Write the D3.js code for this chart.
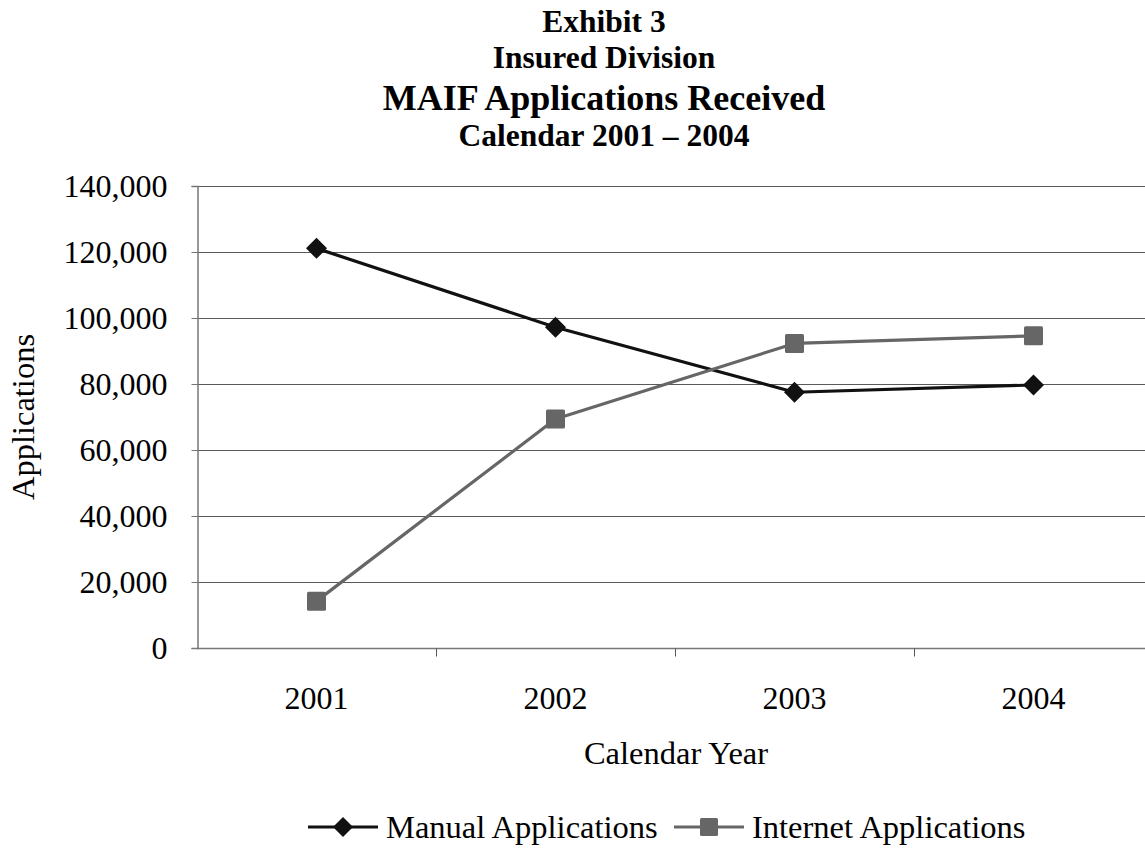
<!DOCTYPE html>
<html>
<head>
<meta charset="utf-8">
<script src="https://cdn.jsdelivr.net/npm/d3@7"></script>
<style>
  html, body { margin: 0; padding: 0; background: #fff; }
  svg { display: block; font-family: "Liberation Serif", "Times New Roman", serif; }
</style>
</head>
<body>
<svg id="chart" width="1145" height="856"></svg>
<script>
// Calendar years on the x axis
const years = ["2001", "2002", "2003", "2004"];
// Applications received per year
const manualApps = [121100, 97200, 77500, 79700];
const internetApps = [14200, 69400, 92300, 94600];
// Value-axis ticks
const yTicks = [0, 20000, 40000, 60000, 80000, 100000, 120000, 140000];
const titleLines = ["Exhibit 3", "Insured Division", "MAIF Applications Received", "Calendar 2001 \u2013 2004"];
const seriesNames = ["Manual Applications", "Internet Applications"];

const svg = d3.select("#chart");
const W = 1145;
const FS = 32.5; // body text size

const plot = { left: 197, right: 1153, top: 186, bottom: 648 };

const x = d3.scaleBand().domain(years).range([plot.left, plot.right]).padding(0);
const y = d3.scaleLinear().domain([0, 140000]).range([plot.bottom, plot.top]);
const cx = d => x(d) + x.bandwidth() / 2;

// Title block
const titleSizes = [31.5, 31.5, 36, 31.5];
const titleBase = [32, 68, 110, 146];
svg.append("g").selectAll("text").data(titleLines).join("text")
  .attr("x", 604).attr("y", (d, i) => titleBase[i])
  .attr("text-anchor", "middle")
  .attr("font-weight", "bold")
  .attr("font-size", (d, i) => titleSizes[i])
  .attr("fill", "#000")
  .text(d => d);

// Horizontal gridlines
svg.append("g").selectAll("line").data(yTicks.filter(t => t > 0)).join("line")
  .attr("x1", plot.left).attr("x2", W)
  .attr("y1", d => Math.round(y(d)) + 0.5).attr("y2", d => Math.round(y(d)) + 0.5)
  .attr("stroke", "#5a5a5a").attr("stroke-width", 1);

// Y axis
const yAxis = d3.axisLeft(y).tickValues(yTicks).tickSize(6).tickPadding(24)
  .tickFormat(d3.format(","));
const gy = svg.append("g").attr("transform", `translate(${plot.left + 0.5},0)`).call(yAxis);
gy.select(".domain").attr("stroke", "#777").attr("stroke-width", 1.5);
gy.selectAll(".tick line").attr("stroke", "#777");
gy.selectAll(".tick text").attr("font-size", 32).attr("fill", "#000")
  .attr("font-family", "Liberation Serif, Times New Roman, serif");

// X axis with ticks at band boundaries
const gx = svg.append("g").attr("transform", `translate(0,${plot.bottom + 0.5})`);
gx.append("line").attr("x1", plot.left).attr("x2", W).attr("stroke", "#777").attr("stroke-width", 1.5);
gx.selectAll("line.tk").data(years.slice(1)).join("line").attr("class", "tk")
  .attr("x1", d => Math.round(x(d)) + 0.5).attr("x2", d => Math.round(x(d)) + 0.5)
  .attr("y1", 0).attr("y2", 8).attr("stroke", "#555");
gx.selectAll("text").data(years).join("text")
  .attr("x", cx).attr("y", 60)
  .attr("text-anchor", "middle").attr("font-size", 32).attr("fill", "#000")
  .text(d => d);

// Axis titles
svg.append("text").attr("x", 676).attr("y", 764).attr("text-anchor", "middle")
  .attr("font-size", FS).attr("fill", "#000").text("Calendar Year");
svg.append("text").attr("transform", "translate(34,417) rotate(-90)")
  .attr("text-anchor", "middle").attr("font-size", FS).attr("fill", "#000").text("Applications");

// Series lines and markers
const line = d3.line().x(d => cx(d.year)).y(d => y(d.value));
const manual = years.map((yr, i) => ({ year: yr, value: manualApps[i] }));
const internet = years.map((yr, i) => ({ year: yr, value: internetApps[i] }));

svg.append("path").datum(manual).attr("d", line)
  .attr("fill", "none").attr("stroke", "#111").attr("stroke-width", 3.2).attr("stroke-linejoin", "round");
svg.append("path").datum(internet).attr("d", line)
  .attr("fill", "none").attr("stroke", "#666").attr("stroke-width", 3.2).attr("stroke-linejoin", "round");

const diamond = "M0,-10.5L10.5,0L0,10.5L-10.5,0Z";
svg.append("g").selectAll("path").data(manual).join("path")
  .attr("d", diamond)
  .attr("transform", d => `translate(${cx(d.year)},${y(d.value)})`)
  .attr("fill", "#111");
svg.append("g").selectAll("rect").data(internet).join("rect")
  .attr("x", d => cx(d.year) - 9.5).attr("y", d => y(d.value) - 9.5)
  .attr("width", 19).attr("height", 19).attr("rx", 1.5)
  .attr("fill", "#666");

// Legend
const legend = svg.append("g");
const legItems = [
  { name: seriesNames[0], x: 308, color: "#111", shape: "diamond" },
  { name: seriesNames[1], x: 674, color: "#666", shape: "square" }
];
const ly = 827;
const segLen = 70;
legItems.forEach(it => {
  legend.append("line").attr("x1", it.x).attr("x2", it.x + segLen)
    .attr("y1", ly).attr("y2", ly).attr("stroke", it.color).attr("stroke-width", 3.2);
  if (it.shape === "diamond") {
    legend.append("path").attr("d", "M0,-10L10,0L0,10L-10,0Z")
      .attr("transform", `translate(${it.x + segLen / 2},${ly})`).attr("fill", it.color);
  } else {
    legend.append("rect").attr("x", it.x + segLen / 2 - 9).attr("y", ly - 9)
      .attr("width", 18).attr("height", 18).attr("rx", 1.5).attr("fill", it.color);
  }
  legend.append("text").attr("x", it.x + segLen + 8).attr("y", ly + 11)
    .attr("font-size", FS).attr("fill", "#000").text(it.name);
});
</script>
</body>
</html>
